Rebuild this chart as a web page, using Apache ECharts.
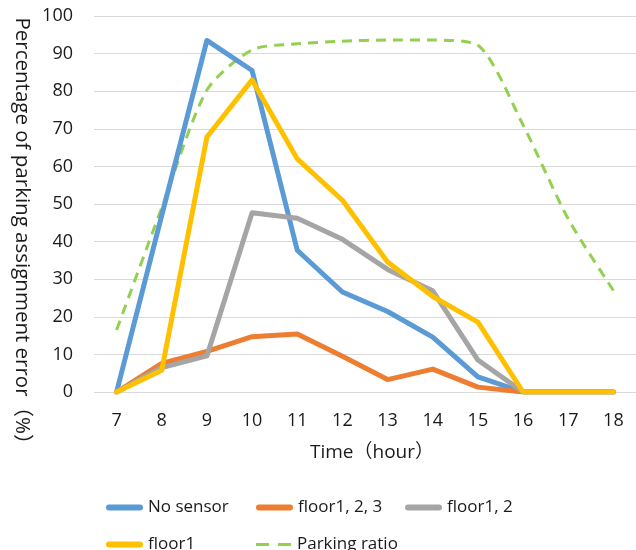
<!DOCTYPE html>
<html>
<head>
<meta charset="utf-8">
<script src="https://cdn.jsdelivr.net/npm/echarts@6/dist/echarts.min.js"></script>
<style>
html,body{margin:0;padding:0;background:#fff;}
#chart{width:636px;height:550px;}
</style>
</head>
<body>
<div id="chart"></div>
<script>
const hours = ['7','8','9','10','11','12','13','14','15','16','17','18'];
const noSensor   = [0, 47, 93.5, 85.5, 37.7, 26.6, 21.4, 14.6, 4, 0, 0, 0];
const floor123   = [0, 7.6, 10.8, 14.7, 15.4, 9.5, 3.3, 6.1, 1.3, 0, 0, 0];
const floor12    = [0, 6.5, 9.6, 47.7, 46.2, 40.6, 32.6, 26.9, 8.5, 0, 0, 0];
const floor1     = [0, 5.8, 67.8, 83, 62, 51, 34.6, 25.4, 18.6, 0, 0, 0];
const parkRatio  = [16.5, 49, 80.3, 91, 92.6, 93.3, 93.6, 93.6, 92.2, 71, 46, 27];
const seriesNames = ['No sensor', 'floor1, 2, 3', 'floor1, 2', 'floor1', 'Parking ratio'];
const yTicks = [0, 100, 10];

const FONT = "'Open Sans', 'Noto Sans CJK JP', sans-serif";
const TXT = '#1a1a1a';
const colors = ['#5B9BD5', '#ED7D31', '#A5A5A5', '#FFC000', '#92D050'];

const chart = echarts.init(document.getElementById('chart'), null, {renderer: 'canvas'});

const SOLID_ICON = 'path://M3,0 L35,0 A3,3 0 0 1 35,6 L3,6 A3,3 0 0 1 3,0 Z';
const DASH_ICON = 'path://M0,0h13v3h-13z M22,0h13v3h-13z';

function legendAt(name, left, top, dashed, color) {
  return {
    data: [{name: name, icon: dashed ? DASH_ICON : SOLID_ICON,
            itemStyle: {color: color, borderWidth: 0, borderColor: 'transparent'}}],
    left: left, top: top, itemWidth: 37, itemHeight: dashed ? 3 : 6,
    itemStyle: {borderWidth: 0, borderColor: 'transparent'},
    lineStyle: {width: 0},
    textStyle: {fontFamily: FONT, fontSize: 17, color: TXT},
    selectedMode: false
  };
}

function lineSeries(name, data, color, extra) {
  return Object.assign({
    name: name, type: 'line', data: data, symbol: 'none', showSymbol: false,
    lineStyle: {color: color, width: 5, cap: 'round', join: 'round'},
    itemStyle: {color: color},
    emphasis: {disabled: true}, animation: false, z: 2
  }, extra || {});
}

chart.setOption({
  animation: false,
  color: colors,
  grid: {left: 94, top: 16, width: 549, height: 376, containLabel: false},
  xAxis: {
    type: 'category', data: hours, boundaryGap: true,
    axisLine: {show: false}, axisTick: {show: false},
    axisLabel: {fontFamily: FONT, fontSize: 18, color: TXT, margin: 20},
    name: 'Time（hour）', nameLocation: 'middle', nameGap: 51,
    nameTextStyle: {fontFamily: FONT, fontSize: 19, color: TXT, padding: [0, 0, 0, 14]}
  },
  yAxis: {
    type: 'value', min: yTicks[0], max: yTicks[1], interval: yTicks[2],
    axisLine: {show: false}, axisTick: {show: false},
    axisLabel: {fontFamily: FONT, fontSize: 18, color: TXT, margin: 21},
    splitLine: {lineStyle: {color: '#d9d9d9', width: 1}}
  },
  legend: [
    legendAt(seriesNames[0], 101, 494, false, colors[0]),
    legendAt(seriesNames[1], 251, 494, false, colors[1]),
    legendAt(seriesNames[2], 400, 494, false, colors[2]),
    legendAt(seriesNames[3], 101, 531, false, colors[3]),
    legendAt(seriesNames[4], 251, 531, true, colors[4])
  ],
  graphic: [{
    type: 'text', x: 22, y: 236, rotation: -Math.PI / 2,
    style: {
      text: 'Percentage of parking assignment error（%）',
      font: '20.5px ' + FONT, fill: TXT, align: 'center', verticalAlign: 'middle'
    }
  }],
  series: [
    lineSeries(seriesNames[4], parkRatio, colors[4], {
      smooth: 0.25, z: 1,
      lineStyle: {color: colors[4], width: 3, type: [10, 7], cap: 'butt'}
    }),
    lineSeries(seriesNames[0], noSensor, colors[0]),
    lineSeries(seriesNames[1], floor123, colors[1]),
    lineSeries(seriesNames[2], floor12, colors[2]),
    lineSeries(seriesNames[3], floor1, colors[3])
  ]
});
</script>
</body>
</html>
